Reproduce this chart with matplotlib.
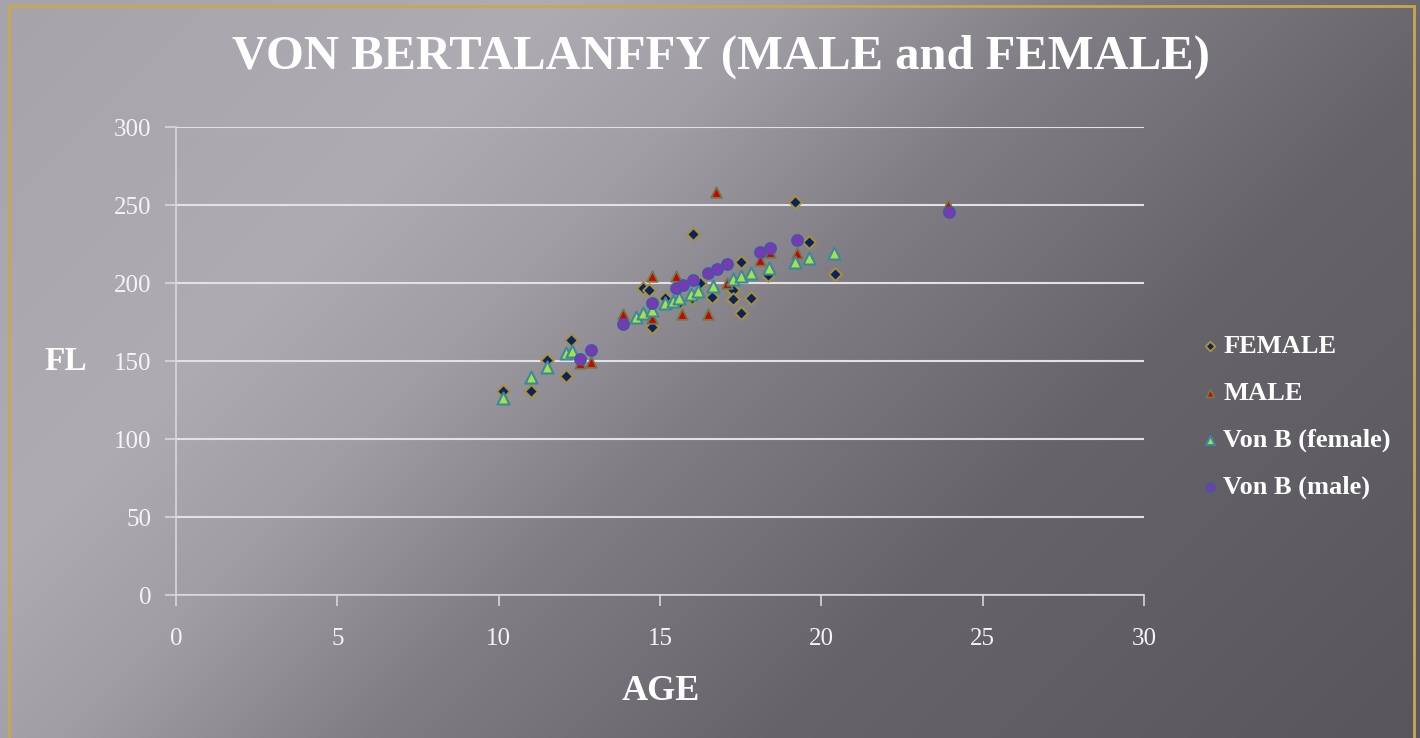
import numpy as np
import matplotlib
matplotlib.use("Agg")
import matplotlib.pyplot as plt
from matplotlib.patches import Rectangle

# data
female_age = [10.13, 11.0, 11.5, 12.09, 12.24, 14.47, 14.66, 14.75, 15.15, 15.59, 15.99, 16.24,
              16.61, 17.26, 17.26, 17.51, 17.82, 17.51, 18.35, 19.18, 16.02, 19.62, 20.42]
female_fl = [130.8, 130.8, 150.6, 140.4, 163.5, 196.8, 195.5, 171.8, 190.4, 187.2, 190.4, 200,
             191, 195.5, 189.7, 213.5, 190.4, 180.8, 205.1, 252, 231.4, 226.3, 205.8]

male_age = [12.52, 12.86, 13.85, 14.75, 15.5, 14.75, 15.68, 16.49, 16.73, 17.07, 18.1, 18.4, 19.24, 23.92]
male_fl = [149, 149.4, 180, 204.5, 204.5, 177.6, 180, 180, 258.3, 200, 215, 220, 219.5, 250]

vbf_age = [10.13, 11.0, 11.5, 12.1, 12.27, 14.25, 14.47, 14.75, 15.15, 15.4, 15.6, 15.95, 16.18,
           16.64, 17.26, 17.51, 17.82, 18.38, 19.18, 19.62, 20.39]
vbf_fl = [126, 139.7, 146, 155, 156.4, 178, 180.8, 182.7, 187, 188.5, 190.4, 193, 195,
          198, 202.6, 204.5, 206.4, 209.6, 213.5, 216, 219]

vbm_age = [12.52, 12.86, 13.85, 14.75, 15.5, 15.71, 16.02, 16.49, 16.76, 17.07, 18.1, 18.4, 19.24, 23.95]
vbm_fl = [151, 157, 173.7, 187, 196.8, 198.7, 202, 206.4, 209, 212, 220, 222.4, 227.6, 245.5]

W, H = 1420, 738
fig = plt.figure(figsize=(W / 100, H / 100), dpi=100)

# diagonal grey gradient background
bg = fig.add_axes([0, 0, 1, 1], zorder=-10)
xx, yy = np.meshgrid(np.arange(W), np.arange(H))
s = xx + yy
level = np.interp(s, [0, 550, 800, 1100, 1500, 2160], [166, 174, 160, 128, 102, 88])
img = np.dstack([level, level - 3, level + 4]) / 255.0
bg.imshow(np.clip(img, 0, 1), extent=[0, W, H, 0], aspect="auto")
bg.add_patch(Rectangle((9, 6), 1405, 760, fill=False, ec="#c8aa4a", lw=2))
bg.set_xlim(0, W)
bg.set_ylim(H, 0)
bg.axis("off")

serif = "Liberation Serif"
ax = fig.add_axes([176 / W, (H - 595) / H, (1144 - 176) / W, (595 - 127) / H])
ax.patch.set_alpha(0)

ax.scatter(female_age, female_fl, marker="D", s=42, c="#0b2460", edgecolors="#a8903c", lw=1.4,
           label="FEMALE", zorder=3)
ax.scatter(male_age, male_fl, marker="^", s=58, c="#d40000", edgecolors="#6f7a46", lw=1.3,
           label="MALE", zorder=4)
ax.scatter(vbf_age, vbf_fl, marker="^", s=75, c="#a6e04a", edgecolors="#3a8a9c", lw=1.5,
           label="Von B (female)", zorder=5)
ax.scatter(vbm_age, vbm_fl, marker="o", s=60, c="#7a38b4", edgecolors="#4a52a8", lw=1.5,
           label="Von B (male)", zorder=6)

ax.set_xlim(0, 30)
ax.set_ylim(0, 300)
ax.set_xticks(range(0, 31, 5))
ax.set_yticks(range(0, 301, 50))
ax.yaxis.grid(True, color="#e2e2e4", lw=1.5)
ax.set_axisbelow(True)
for side in ["top", "right"]:
    ax.spines[side].set_visible(False)
for side in ["left", "bottom"]:
    ax.spines[side].set_color("#d8d8da")
    ax.spines[side].set_linewidth(1.2)
ax.tick_params(colors="#d8d8da", length=8, width=1.2, labelcolor="#f4f4f4", labelsize=18)
ax.tick_params(axis="x", pad=16)
ax.tick_params(axis="y", pad=10)
for lab in ax.get_xticklabels() + ax.get_yticklabels():
    lab.set_family(serif)

fig.text(721 / W, 1 - 57 / H, "VON BERTALANFFY (MALE and FEMALE)", ha="center", va="center",
         color="white", fontsize=35, fontweight="bold", family=serif)
fig.text(661 / W, 1 - 692 / H, "AGE", ha="center", va="center", color="white",
         fontsize=26, fontweight="bold", family=serif)
fig.text(66 / W, 1 - 362 / H, "FL", ha="center", va="center", color="white",
         fontsize=24, fontweight="bold", family=serif)

leg = ax.legend(loc="upper left", bbox_to_anchor=(1173 / W, 1 - 311 / H), bbox_transform=fig.transFigure,
                frameon=False, handletextpad=0.0, labelspacing=0.88, markerscale=0.75,
                handlelength=1.0, prop={"family": serif, "weight": "bold", "size": 19})
for t in leg.get_texts():
    t.set_color("white")

fig.savefig("out.png", dpi=100)
